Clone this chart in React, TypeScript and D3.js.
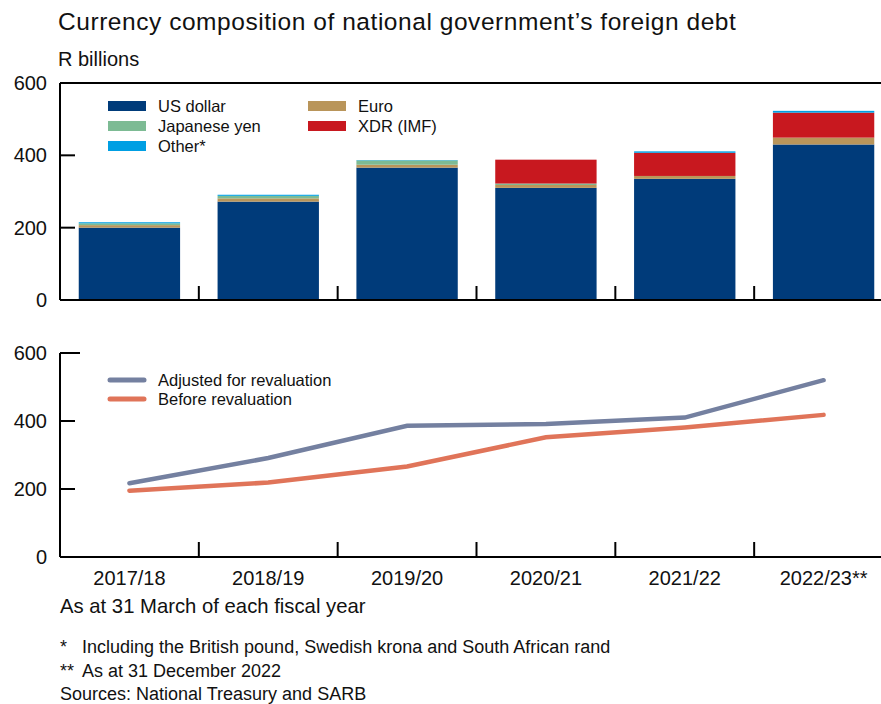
import React from "react";
import * as d3 from "d3";

const categories = ["2017/18", "2018/19", "2019/20", "2020/21", "2021/22", "2022/23**"];
const usDollar = [200, 272, 366, 310, 335, 430];
const euro = [7, 9, 8, 8, 8, 19];
const japaneseYen = [5, 7, 12, 4, 0, 0];
const xdr = [0, 0, 0, 66, 64, 69];
const other = [3, 3, 1, 0, 4, 5];
const adjusted = [217, 291, 386, 391, 410, 520];
const beforeReval = [195, 219, 266, 352, 381, 418];
const yTicks = [0, 200, 400, 600];

const seriesDefs = [
  { key: "US dollar", values: usDollar, color: "#003b7a" },
  { key: "Euro", values: euro, color: "#b9955a" },
  { key: "Japanese yen", values: japaneseYen, color: "#7dbb94" },
  { key: "XDR (IMF)", values: xdr, color: "#c8181f" },
  { key: "Other*", values: other, color: "#009fe3" },
];

const FONT = "'Liberation Sans', Arial, Helvetica, sans-serif";

export default function App() {
  const W = 881, H = 704;
  const x = d3.scaleBand<string>().domain(categories).range([60, 893]).paddingInner(0).paddingOuter(0);
  const bw = x.bandwidth();
  const barW = bw * 0.73;
  const yTop = d3.scaleLinear().domain([0, 600]).range([300, 83]);
  const yBot = d3.scaleLinear().domain([0, 600]).range([557, 353]);

  const table = categories.map((c, i) => {
    const row: any = { cat: c };
    seriesDefs.forEach((s) => (row[s.key] = s.values[i]));
    return row;
  });
  const stack = d3.stack().keys(seriesDefs.map((s) => s.key))(table);

  const line = d3
    .line<number>()
    .x((_, i) => (x(categories[i]) as number) + bw / 2)
    .y((v) => yBot(v));

  const boundaries = categories.slice(1).map((c) => x(c) as number);

  const legendTop = [
    { label: "US dollar", color: "#003b7a", lx: 108, ly: 106 },
    { label: "Japanese yen", color: "#7dbb94", lx: 108, ly: 126 },
    { label: "Other*", color: "#009fe3", lx: 108, ly: 146 },
    { label: "Euro", color: "#b9955a", lx: 308, ly: 106 },
    { label: "XDR (IMF)", color: "#c8181f", lx: 308, ly: 126 },
  ];

  return (
    <svg width={W} height={H} style={{ position: "absolute", left: 0, top: 0, background: "#fff" }} fontFamily={FONT}>
      <text x={58} y={30} fontSize={24.5} letterSpacing={0.55} fill="#111">Currency composition of national government’s foreign debt</text>
      <text x={58} y={66} fontSize={20} fill="#111">R billions</text>

      {/* top chart bars */}
      {stack.map((layer, li) => (
        <g key={li} fill={seriesDefs[li].color}>
          {layer.map((d, i) =>
            d[1] - d[0] > 0 ? (
              <rect
                key={i}
                x={(x(categories[i]) as number) + (bw - barW) / 2}
                width={barW}
                y={yTop(d[1])}
                height={yTop(d[0]) - yTop(d[1])}
              />
            ) : null
          )}
        </g>
      ))}

      {/* top chart axes */}
      <g stroke="#000" strokeWidth={2}>
        <line x1={60} x2={881} y1={yTop(600)} y2={yTop(600)} />
        <line x1={60} x2={60} y1={yTop(600)} y2={yTop(0)} />
        <line x1={60} x2={881} y1={yTop(0)} y2={yTop(0)} />
        {[200, 400].map((t) => (
          <line key={t} x1={60} x2={75} y1={yTop(t)} y2={yTop(t)} />
        ))}
        {boundaries.map((b, i) => (
          <line key={i} x1={b} x2={b} y1={yTop(0)} y2={yTop(0) - 14} />
        ))}
      </g>
      {yTicks.map((t) => (
        <text key={t} x={47} y={yTop(t) + 7} fontSize={20} textAnchor="end" fill="#111">{t}</text>
      ))}

      {/* top legend */}
      {legendTop.map((l) => (
        <g key={l.label}>
          <rect x={l.lx} y={l.ly - 5} width={38} height={10} fill={l.color} />
          <text x={l.lx + 50} y={l.ly + 6} fontSize={16.5} fill="#111">{l.label}</text>
        </g>
      ))}

      {/* bottom chart lines */}
      <path d={line(adjusted) || ""} fill="none" stroke="#7480a0" strokeWidth={4.5} strokeLinecap="round" />
      <path d={line(beforeReval) || ""} fill="none" stroke="#e07459" strokeWidth={4.5} strokeLinecap="round" />

      <g stroke="#000" strokeWidth={2}>
        <line x1={60} x2={60} y1={yBot(600)} y2={yBot(0)} />
        <line x1={60} x2={881} y1={yBot(0)} y2={yBot(0)} />
        <line x1={60} x2={80} y1={yBot(600)} y2={yBot(600)} />
        {[200, 400].map((t) => (
          <line key={t} x1={60} x2={75} y1={yBot(t)} y2={yBot(t)} />
        ))}
        {boundaries.map((b, i) => (
          <line key={i} x1={b} x2={b} y1={yBot(0)} y2={yBot(0) - 15} />
        ))}
      </g>
      {yTicks.map((t) => (
        <text key={t} x={47} y={yBot(t) + 7} fontSize={20} textAnchor="end" fill="#111">{t}</text>
      ))}

      {/* bottom legend */}
      <line x1={110} x2={144} y1={380} y2={380} stroke="#7480a0" strokeWidth={5} strokeLinecap="round" />
      <text x={158} y={386} fontSize={16.5} fill="#111">Adjusted for revaluation</text>
      <line x1={110} x2={144} y1={399} y2={399} stroke="#e07459" strokeWidth={5} strokeLinecap="round" />
      <text x={158} y={405} fontSize={16.5} fill="#111">Before revaluation</text>

      {/* category labels */}
      {categories.map((c) => (
        <text key={c} x={(x(c) as number) + bw / 2} y={585} fontSize={20} textAnchor="middle" fill="#111">{c}</text>
      ))}
      <text x={60} y={613} fontSize={20.3} fill="#111">As at 31 March of each fiscal year</text>

      <text x={60} y={653} fontSize={18} fill="#111">*</text>
      <text x={82} y={653} fontSize={18} fill="#111">Including the British pound, Swedish krona and South African rand</text>
      <text x={60} y={676.5} fontSize={18} fill="#111">**</text>
      <text x={82} y={676.5} fontSize={18} fill="#111">As at 31 December 2022</text>
      <text x={60} y={700} fontSize={18} fill="#111">Sources: National Treasury and SARB</text>
    </svg>
  );
}
